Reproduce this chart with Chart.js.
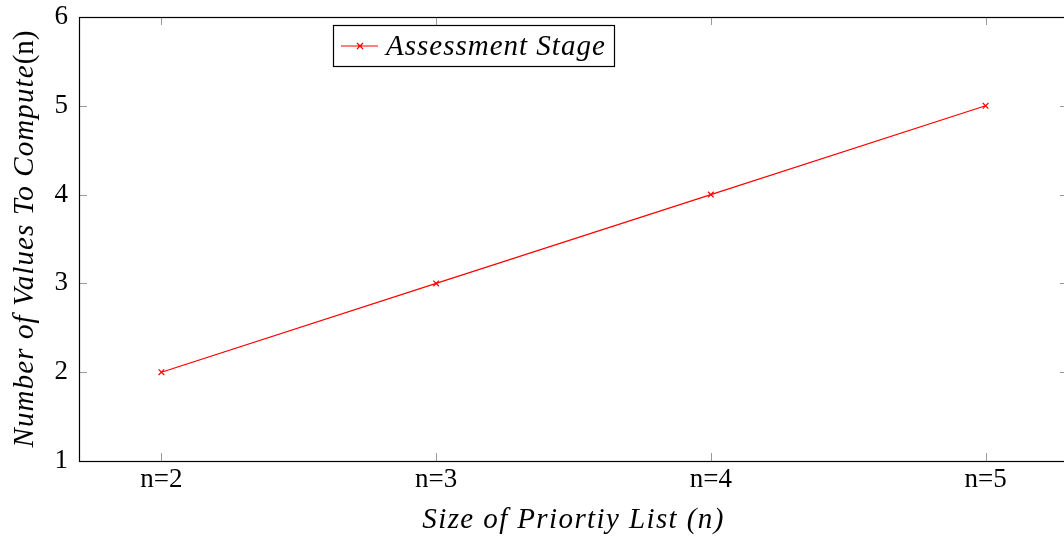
<!DOCTYPE html>
<html>
<head>
<meta charset="utf-8">
<script src="https://cdn.jsdelivr.net/npm/chart.js@4/dist/chart.umd.min.js"></script>
<style>
  html, body { margin: 0; padding: 0; background: #fff; overflow: hidden; width: 1064px; height: 537px; }
  #wrap { position: relative; width: 1080px; height: 537px; }
</style>
</head>
<body>
<div id="wrap"><canvas id="c"></canvas></div>
<script>
// Priority-list sizes and how many values have to be computed for each
const categories = ['n=2', 'n=3', 'n=4', 'n=5'];
const listSizes = [2, 3, 4, 5];
const valuesToCompute = [2, 3, 4, 5];
const yTicks = [1, 2, 3, 4, 5, 6];
const seriesName = 'Assessment Stage';
const xTitle = 'Size of Priortiy List (n)';
const yTitleItalic = 'Number of Values To Compute';
const yTitleUpright = '(n)';

const RED = '#ff0000';
const SERIF = '"Liberation Serif", "DejaVu Serif", serif';
const ITALIC_FONT = 'italic 29px ' + SERIF;
const UPRIGHT_TITLE_FONT = '29px ' + SERIF;

// Frame, inward tick marks, axis titles and the boxed legend
const decorations = {
  id: 'decorations',
  afterDraw(chart) {
    const { ctx, chartArea: a, scales } = chart;
    const xs = scales.x, ys = scales.y;
    const tickLen = 8;
    ctx.save();

    // inward ticks on all four sides
    ctx.strokeStyle = '#9a9a9a';
    ctx.lineWidth = 1;
    ctx.beginPath();
    listSizes.forEach(v => {
      const px = Math.round(xs.getPixelForValue(v)) + 0.5;
      ctx.moveTo(px, a.bottom); ctx.lineTo(px, a.bottom - tickLen);
      ctx.moveTo(px, a.top); ctx.lineTo(px, a.top + tickLen);
    });
    yTicks.forEach(v => {
      const py = Math.round(ys.getPixelForValue(v)) + 0.5;
      ctx.moveTo(a.left, py); ctx.lineTo(a.left + tickLen, py);
      ctx.moveTo(a.right, py); ctx.lineTo(a.right - tickLen, py);
    });
    ctx.stroke();

    // frame
    ctx.strokeStyle = '#000';
    ctx.lineWidth = 1.2;
    ctx.strokeRect(Math.round(a.left) + 0.5, Math.round(a.top) + 0.5,
                   Math.round(a.right - a.left), Math.round(a.bottom - a.top));

    // x axis title
    ctx.fillStyle = '#000';
    ctx.font = ITALIC_FONT;
    ctx.letterSpacing = '1.4px';
    ctx.textAlign = 'center';
    ctx.textBaseline = 'alphabetic';
    ctx.fillText(xTitle, (a.left + a.right) / 2, 528);

    // y axis title: italic words followed by an upright "(n)"
    ctx.save();
    ctx.translate(33, (a.top + a.bottom) / 2);
    ctx.rotate(-Math.PI / 2);
    ctx.font = ITALIC_FONT;
    ctx.letterSpacing = '1.1px';
    const w1 = ctx.measureText(yTitleItalic).width;
    ctx.font = UPRIGHT_TITLE_FONT;
    ctx.letterSpacing = '0px';
    const w2 = ctx.measureText(yTitleUpright).width;
    const start = -(w1 + w2) / 2;
    ctx.textAlign = 'left';
    ctx.font = ITALIC_FONT;
    ctx.letterSpacing = '1.1px';
    ctx.fillText(yTitleItalic, start, 0);
    ctx.font = UPRIGHT_TITLE_FONT;
    ctx.letterSpacing = '0px';
    ctx.fillText(yTitleUpright, start + w1, 0);
    ctx.restore();

    // legend box
    const lx = a.left + 254, ly = a.top + 8;
    ctx.strokeStyle = '#000';
    ctx.lineWidth = 1.2;
    ctx.strokeRect(lx + 0.5, ly + 0.5, 281, 41);
    const my = ly + 21;
    ctx.strokeStyle = RED;
    ctx.lineWidth = 1.2;
    ctx.beginPath();
    ctx.moveTo(lx + 8, my); ctx.lineTo(lx + 45, my);
    const cx = lx + 27, r = 3;
    ctx.moveTo(cx - r, my - r); ctx.lineTo(cx + r, my + r);
    ctx.moveTo(cx - r, my + r); ctx.lineTo(cx + r, my - r);
    ctx.stroke();
    ctx.fillStyle = '#000';
    ctx.font = ITALIC_FONT;
    ctx.letterSpacing = '1px';
    ctx.textAlign = 'left';
    ctx.fillText(seriesName, lx + 53, ly + 30);
    ctx.restore();
  }
};

new Chart(document.getElementById('c'), {
  type: 'line',
  data: {
    datasets: [{
      label: seriesName,
      data: listSizes.map((s, i) => ({ x: s, y: valuesToCompute[i] })),
      borderColor: RED,
      backgroundColor: RED,
      borderWidth: 1.2,
      pointStyle: 'crossRot',
      pointRadius: 4,
      pointBorderWidth: 1.2,
      tension: 0,
      fill: false
    }]
  },
  options: {
    responsive: true,
    maintainAspectRatio: false,
    devicePixelRatio: 1,
    animation: false,
    layout: { padding: { top: 17, right: 12, left: 0, bottom: 0 } },
    plugins: { legend: { display: false }, tooltip: { enabled: false } },
    scales: {
      x: {
        type: 'linear',
        min: 1.7,
        max: 5.3,
        grid: { display: false },
        border: { display: false },
        afterBuildTicks(scale) { scale.ticks = listSizes.map(v => ({ value: v })); },
        afterFit(scale) { scale.height = 76; },
        ticks: {
          color: '#000',
          font: { family: SERIF, size: 27 },
          padding: -5,
          maxRotation: 0,
          callback: v => categories[listSizes.indexOf(v)]
        }
      },
      y: {
        type: 'linear',
        min: 1,
        max: 6,
        grid: { display: false },
        border: { display: false },
        afterBuildTicks(scale) { scale.ticks = yTicks.map(v => ({ value: v })); },
        afterFit(scale) {
          scale.width = 79;
          scale.paddingTop = 0;
          scale.paddingBottom = 0;
        },
        ticks: {
          color: '#000',
          font: { family: SERIF, size: 27 },
          padding: 3
        }
      }
    }
  },
  plugins: [decorations]
});
</script>
</body>
</html>
